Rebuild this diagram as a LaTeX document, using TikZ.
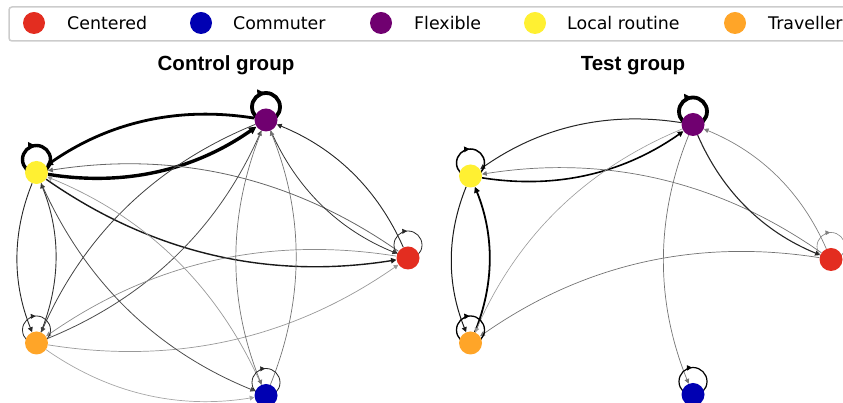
\documentclass[tikz,border=0pt]{standalone}
\usepackage{fontspec}
\setmainfont{DejaVu Sans}
\newfontfamily\titlefont{Liberation Sans}
\usetikzlibrary{arrows.meta,backgrounds,decorations.markings,calc}

\definecolor{cred}{RGB}{227,45,32}
\definecolor{cblue}{RGB}{0,0,178}
\definecolor{cpurple}{RGB}{112,0,112}
\definecolor{cyellow}{RGB}{255,240,50}
\definecolor{corange}{RGB}{255,165,40}

\tikzset{
  vertex/.style={circle, minimum size=23pt, inner sep=0pt, fill=#1},
  keydot/.style={circle, minimum size=22pt, inner sep=0pt, fill=#1},
  keytext/.style={anchor=west, inner sep=0pt, font=\fontsize{17.4}{20}\selectfont},
  grouptitle/.style={anchor=base, inner sep=0pt, font=\titlefont\bfseries\fontsize{20.5}{24}\selectfont},
  tip/.style={-{Triangle[length=4pt 1, width=4pt 1]}},
  link/.style={tip, bend right=22, looseness=0.92},
  loopmark/.style={postaction={decorate}, decoration={markings,
      mark=at position 0.24 with {\arrow{Triangle[length=4pt 1, width=4pt 1]}}}},
}

% self-loop drawn as a ring sitting on top of a vertex, arrow at its top
\newcommand\selfloop[2][]{%
  \draw[loopmark, #1] ($(#2)+(-14,13)$) arc[start angle=180, end angle=-180, radius=14pt];}

\begin{document}
\begin{tikzpicture}[x=1pt, y=1pt]
\useasboundingbox (0,0) rectangle (843,403);

% ---------- legend ----------
\draw[black!20, line width=1.5pt, rounded corners=3pt] (9,362) rectangle (870,396);
\node[keydot=cred]    (kC) at (34,380)  {};
\node[keytext]        (tC) at (67,380)  {Centered};
\node[keydot=cblue]   (kM) at (201,380) {};
\node[keytext]        (tM) at (233,380) {Commuter};
\node[keydot=cpurple] (kF) at (381,380) {};
\node[keytext]        (tF) at (414,380) {Flexible};
\node[keydot=cyellow] (kL) at (535,380) {};
\node[keytext]        (tL) at (567,380) {Local routine};
\node[keydot=corange] (kT) at (735,380) {};
\node[keytext]        (tT) at (768,380) {Traveller};

% ---------- titles ----------
\node[grouptitle] (g1) at (226,332) {Control group};
\node[grouptitle] (g2) at (633,332) {Test group};

% ---------- control group vertices ----------
\node[vertex=cpurple] (F1) at (266,283) {};
\node[vertex=cyellow] (L1) at (36.5,230.5) {};
\node[vertex=cred]    (C1) at (408,145) {};
\node[vertex=corange] (T1) at (36.5,60) {};
\node[vertex=cblue]   (M1) at (266,7.5) {};

% ---------- test group vertices ----------
\node[vertex=cpurple] (F2) at (693,278.5) {};
\node[vertex=cyellow] (L2) at (470.5,227) {};
\node[vertex=cred]    (C2) at (831,143.5) {};
\node[vertex=corange] (T2) at (470.5,60) {};
\node[vertex=cblue]   (M2) at (693,8.5) {};

\begin{pgfonlayer}{background}
% control group edges
\draw[link, line width=2.8pt] (F1) to (L1);
\draw[link, line width=3.4pt] (L1) to (F1);
\draw[link, line width=1.4pt, black!90] (L1) to (C1);
\draw[link, line width=0.8pt, black!60] (C1) to (L1);
\draw[link, line width=0.8pt, black!80] (F1) to (C1);
\draw[link, line width=0.9pt, black!85] (C1) to (F1);
\draw[link, line width=0.9pt, black!85] (L1) to (T1);
\draw[link, line width=0.9pt, black!80] (T1) to (L1);
\draw[link, line width=0.8pt, black!75] (F1) to (T1);
\draw[link, line width=0.8pt, black!70] (T1) to (F1);
\draw[link, line width=0.7pt, black!45] (C1) to (T1);
\draw[link, line width=0.7pt, black!40] (T1) to (C1);
\draw[link, line width=0.8pt, black!70] (L1) to (M1);
\draw[link, line width=0.7pt, black!40] (M1) to (L1);
\draw[link, line width=0.7pt, black!55] (F1) to (M1);
\draw[link, line width=0.7pt, black!55] (M1) to (F1);
\draw[link, line width=0.7pt, black!35] (T1) to (M1);
\selfloop[line width=3.8pt]{F1}
\selfloop[line width=3.4pt]{L1}
\selfloop[line width=0.8pt, black!85]{C1}
\selfloop[line width=0.8pt, black!85]{T1}
\selfloop[line width=0.8pt, black!85]{M1}

% test group edges
\draw[link, line width=1.0pt, black!85] (F2) to (L2);
\draw[link, line width=1.6pt] (L2) to (F2);
\draw[link, line width=0.7pt, black!55] (C2) to (L2);
\draw[link, line width=1.1pt, black!85] (F2) to (C2);
\draw[link, line width=0.7pt, black!50] (C2) to (F2);
\draw[link, line width=0.7pt, black!55] (F2) to (M2);
\draw[link, line width=1.0pt, black!90] (L2) to (T2);
\draw[link, line width=1.8pt] (T2) to (L2);
\draw[link, line width=0.6pt, black!40] (F2) to (T2);
\draw[link, line width=0.7pt, black!55] (C2) to (T2);
\selfloop[line width=3.8pt]{F2}
\selfloop[line width=1.5pt]{L2}
\selfloop[line width=0.6pt, black!50]{C2}
\selfloop[line width=1.3pt]{T2}
\selfloop[line width=1.2pt]{M2}
\end{pgfonlayer}
\end{tikzpicture}
\end{document}
